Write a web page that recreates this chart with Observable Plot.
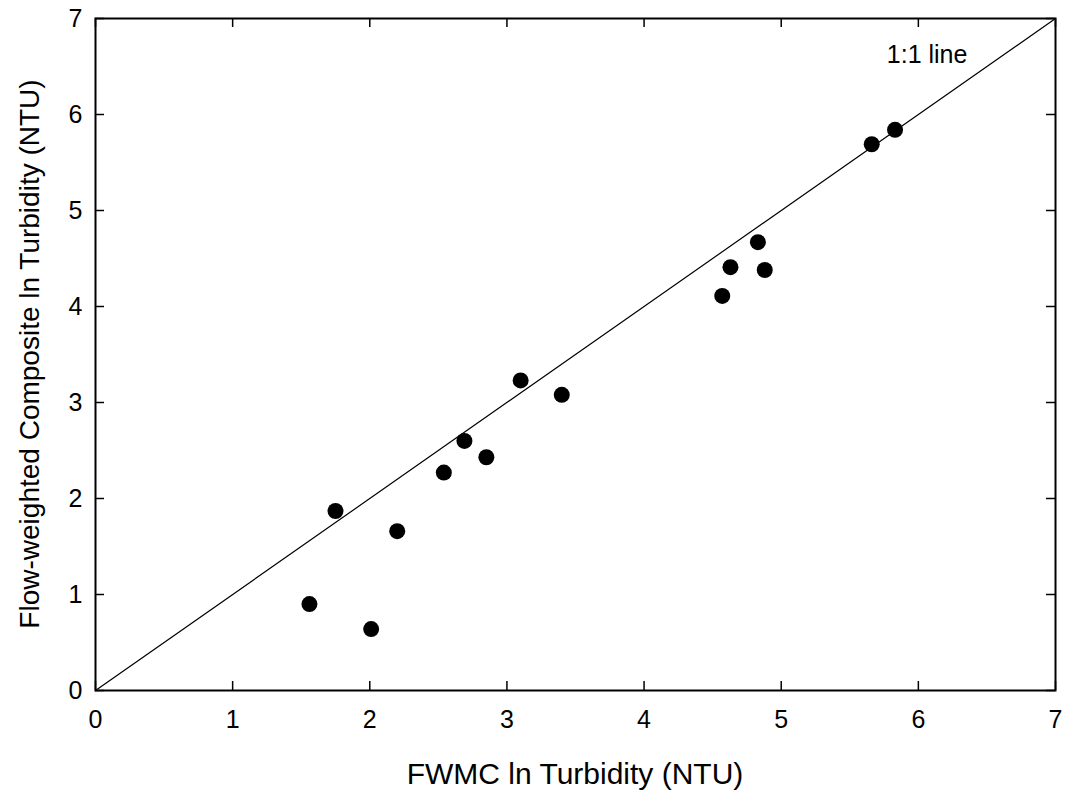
<!DOCTYPE html>
<html>
<head>
<meta charset="utf-8">
<script src="https://cdn.jsdelivr.net/npm/d3@7"></script>
<script src="https://cdn.jsdelivr.net/npm/@observablehq/plot@0.6"></script>
<style>
  html, body { margin: 0; padding: 0; background: #fff; }
  #chart svg { display: block; }
</style>
</head>
<body>
<div id="chart"></div>
<script>
// Data
const fwmc =      [1.56, 1.75, 2.01, 2.20, 2.54, 2.69, 2.85, 3.10, 3.40, 4.57, 4.63, 4.83, 4.88, 5.66, 5.83];
const composite = [0.90, 1.87, 0.64, 1.66, 2.27, 2.60, 2.43, 3.23, 3.08, 4.11, 4.41, 4.67, 4.38, 5.69, 5.84];
const oneToOne = [0, 7];
const tickValues = [0, 1, 2, 3, 4, 5, 6, 7];
const lineLabel = [{x: 5.77, y: 6.62, text: "1:1 line"}];

const points = fwmc.map((x, i) => ({x, y: composite[i]}));

const W = 1068, H = 804;
const mL = 95, mR = 13, mT = 18, mB = 114;
const frameW = W - mL - mR, frameH = H - mT - mB;
const tickLen = 9;
const font = "'Liberation Sans', Arial, Helvetica, sans-serif";

const chart = Plot.plot({
  width: W,
  height: H,
  marginLeft: mL,
  marginRight: mR,
  marginTop: mT,
  marginBottom: mB,
  style: {fontFamily: font, fontSize: "25px", color: "black", background: "white"},
  x: {domain: [0, 7], ticks: tickValues},
  y: {domain: [0, 7], ticks: tickValues},
  marks: [
    Plot.axisX({ticks: tickValues, tickFormat: "d", tickSize: 0, tickPadding: 20, fontSize: 25, label: null}),
    Plot.axisY({ticks: tickValues, tickFormat: "d", tickSize: 0, tickPadding: 13, fontSize: 25, label: null}),
    // inward ticks on all four sides
    Plot.tickX(tickValues, {x: d => d, insetTop: frameH - tickLen, stroke: "black", strokeWidth: 1.5}),
    Plot.tickX(tickValues, {x: d => d, insetBottom: frameH - tickLen, stroke: "black", strokeWidth: 1.5}),
    Plot.tickY(tickValues, {y: d => d, insetRight: frameW - tickLen, stroke: "black", strokeWidth: 1.5}),
    Plot.tickY(tickValues, {y: d => d, insetLeft: frameW - tickLen, stroke: "black", strokeWidth: 1.5}),
    Plot.line(oneToOne, {x: d => d, y: d => d, stroke: "black", strokeWidth: 1.2}),
    Plot.dot(points, {x: "x", y: "y", r: 8, fill: "black", stroke: "none"}),
    Plot.text(lineLabel, {x: "x", y: "y", text: "text", textAnchor: "start", fontSize: 25, fill: "black"}),
    Plot.frame({stroke: "black", strokeWidth: 2})
  ]
});

// Axis titles as real text in the SVG
const svg = d3.select(chart);
svg.append("text")
  .attr("x", mL + frameW / 2)
  .attr("y", 784)
  .attr("text-anchor", "middle")
  .attr("font-family", font)
  .attr("font-size", 30)
  .attr("fill", "black")
  .text("FWMC ln Turbidity (NTU)");
svg.append("text")
  .attr("transform", `translate(39, ${mT + frameH / 2}) rotate(-90)`)
  .attr("text-anchor", "middle")
  .attr("font-family", font)
  .attr("font-size", 28)
  .attr("fill", "black")
  .text("Flow-weighted Composite ln Turbidity (NTU)");

document.getElementById("chart").appendChild(chart);
</script>
</body>
</html>
